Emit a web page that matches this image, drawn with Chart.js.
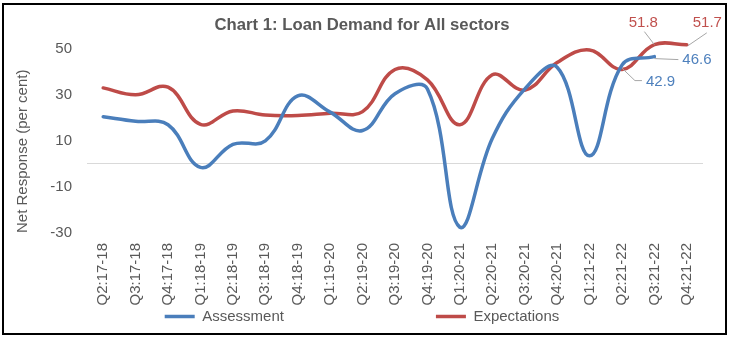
<!DOCTYPE html>
<html>
<head>
<meta charset="utf-8">
<script src="https://cdn.jsdelivr.net/npm/chart.js@4.4.1/dist/chart.umd.min.js"></script>
<style>
  body { margin: 0; background: #fff; }
  #frame { position: absolute; left: 2px; top: 3px; width: 721px; height: 328px; border: 2px solid #000; }
  #mycanvas { position: absolute; left: 0; top: 0; }
</style>
</head>
<body>
<div id="frame"></div>
<canvas id="mycanvas" width="731" height="338"></canvas>
<script>
var quarters = ["Q2:17-18", "Q3:17-18", "Q4:17-18", "Q1:18-19", "Q2:18-19", "Q3:18-19", "Q4:18-19",
  "Q1:19-20", "Q2:19-20", "Q3:19-20", "Q4:19-20", "Q1:20-21", "Q2:20-21", "Q3:20-21", "Q4:20-21",
  "Q1:21-22", "Q2:21-22", "Q3:21-22", "Q4:21-22"];
var assessment = [20.5, 18.5, 17, -1.5, 8.5, 10, 29.5, 22.5, 14.5, 30.5, 32.5, -27.5, 11, 32.5, 42, 3.5, 42.9, 46.6, null];
var expectations = [33, 30, 33.3, 17.2, 23, 21.2, 21, 22, 22.7, 41, 36.5, 17, 38.7, 32, 44, 49.5, 41, 51.8, 51.7];
var yTicks = [-30, -10, 0, 10, 30, 50];

var blue = "#4A7EBB";
var red = "#BE4B48";
var grey = "#595959";

Chart.defaults.font.family = "'Liberation Sans', Arial, sans-serif";
Chart.defaults.color = grey;

// callouts for the last few values
var callouts = [
  { ds: 0, idx: 16, color: "#4F81BD", path: [[0, 3], [13, 15.5], [20, 15.5]], tx: 24, ty: 16.5, align: "left" },
  { ds: 0, idx: 17, color: "#4F81BD", path: [[0, 2], [24, 3]], tx: 28, ty: 3, align: "left" },
  { ds: 1, idx: 17, color: "#C0504D", path: [[0, 0], [-10, -13]], tx: -11, ty: -22, align: "center" },
  { ds: 1, idx: 18, color: "#C0504D", path: [[1, 1], [20, -12]], tx: 20.5, ty: -22, align: "center" }
];

var calloutPlugin = {
  id: "callouts",
  afterDatasetsDraw: function(chart) {
    var ctx = chart.ctx;
    ctx.save();
    callouts.forEach(function(c) {
      var pt = chart.getDatasetMeta(c.ds).data[c.idx];
      var val = chart.data.datasets[c.ds].data[c.idx];
      ctx.strokeStyle = "#A6A6A6";
      ctx.lineWidth = 1;
      ctx.beginPath();
      c.path.forEach(function(p, i) {
        if (i === 0) ctx.moveTo(pt.x + p[0], pt.y + p[1]);
        else ctx.lineTo(pt.x + p[0], pt.y + p[1]);
      });
      ctx.stroke();
      ctx.fillStyle = c.color;
      ctx.font = "15px 'Liberation Sans', Arial, sans-serif";
      ctx.textAlign = c.align;
      ctx.textBaseline = "middle";
      ctx.fillText(val.toFixed(1), pt.x + c.tx, pt.y + c.ty);
    });
    ctx.restore();
  }
};

var chartdata = {
  labels: quarters,
  datasets: [
    {
      label: "Assessment",
      data: assessment,
      borderColor: blue,
      backgroundColor: blue,
      borderWidth: 3.5,
      borderCapStyle: "round",
      tension: 0.4,
      pointRadius: 0,
      fill: false,
      clip: 10
    },
    {
      label: "Expectations",
      data: expectations,
      borderColor: red,
      backgroundColor: red,
      borderWidth: 3.5,
      borderCapStyle: "round",
      tension: 0.4,
      pointRadius: 0,
      fill: false,
      clip: 10
    }
  ]
};

var ctx = document.getElementById("mycanvas");

var LineGraph = new Chart(ctx, {
  type: "line",
  data: chartdata,
  plugins: [calloutPlugin],
  options: {
    responsive: false,
    animation: false,
    devicePixelRatio: 1,
    layout: { padding: { left: 21, right: 28, top: 0, bottom: 4 } },
    plugins: {
      tooltip: { enabled: false },
      title: {
        display: true,
        text: "Chart 1: Loan Demand for All sectors",
        color: grey,
        font: { size: 16.7, weight: "bold" },
        padding: { top: 15.7, bottom: 1.5 }
      },
      legend: {
        position: "bottom",
        labels: {
          color: grey,
          font: { size: 15 },
          usePointStyle: true,
          pointStyle: "line",
          pointStyleWidth: 30,
          padding: 2,
          generateLabels: function(chart) {
            var items = Chart.defaults.plugins.legend.labels.generateLabels(chart);
            items.forEach(function(it) { it.pointStyle = "line"; });
            items[0].text = items[0].text + " ".repeat(36);
            return items;
          }
        }
      }
    },
    scales: {
      x: {
        offset: true,
        grid: { display: false, drawTicks: false, offset: true },
        border: { display: false },
        ticks: { autoSkip: false, minRotation: 90, maxRotation: 90, padding: 10, font: { size: 15 }, color: grey },
        afterFit: function(scale) { scale.height = 74; }
      },
      y: {
        min: -30,
        max: 55,
        border: { display: false },
        grid: {
          drawTicks: false,
          lineWidth: 1,
          color: function(c) { return c.tick && c.tick.value === 0 ? "#D9D9D9" : "rgba(0,0,0,0)"; }
        },
        ticks: {
          padding: 15,
          font: { size: 15 },
          color: grey,
          callback: function(v) { return v === 0 ? "" : v; }
        },
        afterBuildTicks: function(scale) {
          scale.ticks = yTicks.map(function(v) { return { value: v }; });
        },
        afterFit: function(scale) { scale.width = 66; },
        title: {
          display: true,
          text: "Net Response (per cent)",
          color: grey,
          align: "start",
          font: { size: 15 },
          padding: { top: -7.3, bottom: 0 }
        }
      }
    }
  }
});
</script>
</body>
</html>
